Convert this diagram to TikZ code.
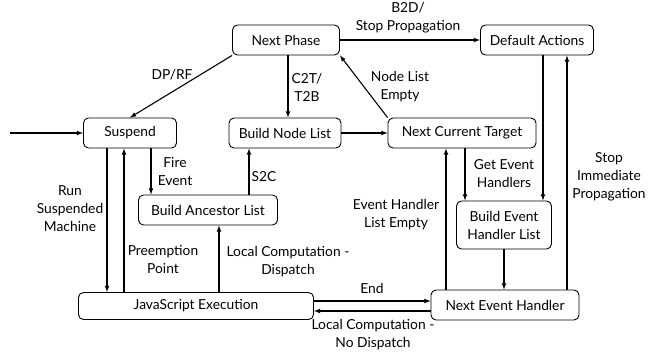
\documentclass[tikz,border=0pt]{standalone}
\usepackage{fontspec}
\setmainfont{Lato}
\usetikzlibrary{arrows}

\tikzset{
	phase/.style={draw, rounded corners=5pt, minimum height=30pt, inner sep=2pt,
		align=center, line width=0.9pt},
	lbl/.style={align=center, inner sep=0pt},
	trans/.style={->, >=latex, line width=1.1pt}
}

\begin{document}
\begin{tikzpicture}[x=1pt, y=-1pt, font=\fontsize{13.8}{18}\selectfont]
		\useasboundingbox (0,0) rectangle (663,358);

		% states
		\node[phase, minimum width=107pt] (nphase) at (286,40) {Next Phase};
		\node[phase, minimum width=113pt] (defact) at (537,40) {Default Actions};
		\node[phase, minimum width=93pt] (susp) at (130,133) {Suspend};
		\node[phase, minimum width=112pt] (bnl) at (285,133) {Build Node List};
		\node[phase, minimum width=148pt] (nct) at (462,133) {Next Current Target};
		\node[phase, minimum width=139pt] (bal) at (208,210) {Build Ancestor List};
		\node[phase, minimum width=95pt, minimum height=48pt] (behl) at (504,225) {Build Event\\Handler List};
		\node[phase, minimum width=235pt, minimum height=27pt] (jsx) at (196,306) {JavaScript Execution};
		\node[phase, minimum width=148pt] (neh) at (505,305) {Next Event Handler};

		\coordinate (start) at (10,133);

		% transitions
		\draw[trans] (start) -- (susp);
		\draw[trans] (nphase.south west) -- (susp.north);
		\draw[trans] ([xshift=2pt]nphase.south) -- ([xshift=2pt]nphase.south |- bnl.north);
		\draw[trans] (nphase.east) -- (defact.west);
		\draw[trans] (nct.north west) -- (nphase.south east);
		\draw[trans] (bnl) -- (nct);

		\draw[trans] ([xshift=-23pt]susp.south) -- ([xshift=-23pt]susp.south |- jsx.north);
		\draw[trans] ([xshift=-6pt]susp.south |- jsx.north) -- ([xshift=-6pt]susp.south);
		\draw[trans] ([xshift=21pt]susp.south) -- ([xshift=21pt]susp.south |- bal.north);
		\draw[trans] ([xshift=41pt]bal.north) -- ([xshift=41pt]bal.north |- bnl.south);
		\draw[trans] ([xshift=11pt]bal.south |- jsx.north) -- ([xshift=11pt]bal.south);

		\draw[trans] ([yshift=5pt]jsx.east) -- ([yshift=5pt]jsx.east -| neh.west);
		\draw[trans] ([yshift=-5pt]jsx.east -| neh.west) -- ([yshift=-5pt]jsx.east);

		\draw[trans] ([xshift=-16pt]nct.south |- neh.north) -- ([xshift=-16pt]nct.south);
		\draw[trans] ([xshift=3pt]nct.south) -- ([xshift=3pt]nct.south |- behl.north);
		\draw[trans] ([xshift=6pt]defact.south) -- ([xshift=6pt]defact.south |- behl.north);
		\draw[trans] (behl.south) -- (behl.south |- neh.north);
		\draw[trans] ([xshift=30pt]defact.south |- neh.north) -- ([xshift=30pt]defact.south);

		% labels
		\node[lbl] (l-dprf) at (172,75) {DP/RF};
		\node[lbl] (l-c2t) at (307,87) {C2T/\\T2B};
		\node[lbl] (l-b2d) at (408,18) {B2D/\\Stop Propagation};
		\node[lbl] (l-nle) at (400,87) {Node List\\Empty};
		\node[lbl] (l-fire) at (175,172) {Fire\\Event};
		\node[lbl] (l-s2c) at (264,177) {S2C};
		\node[lbl] (l-run) at (70,209) {Run\\Suspended\\Machine};
		\node[lbl] (l-pre) at (163,259) {Preemption\\Point};
		\node[lbl] (l-lcd) at (288,262) {Local Computation -\\Dispatch};
		\node[lbl] (l-end) at (372,288) {End};
		\node[lbl] (l-lcn) at (373,335) {Local Computation -\\No Dispatch};
		\node[lbl] (l-ehe) at (396,215) {Event Handler\\List Empty};
		\node[lbl] (l-geh) at (504,174) {Get Event\\Handlers};
		\node[lbl] (l-sip) at (609,177) {Stop\\Immediate\\Propagation};

		\end{tikzpicture}
\end{document}
